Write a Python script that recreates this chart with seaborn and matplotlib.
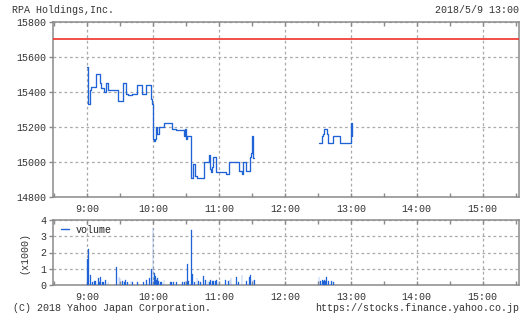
import numpy as np
import pandas as pd
import matplotlib
matplotlib.use("Agg")
import matplotlib.pyplot as plt
from matplotlib.lines import Line2D
import seaborn as sns

# ---------------- data ----------------
title_left = "RPA Holdings,Inc."
title_right = "2018/5/9 13:00"
footer_left = "(C) 2018 Yahoo Japan Corporation."
footer_right = "https://stocks.finance.yahoo.co.jp"

am_times = ["09:00", "09:01", "09:03", "09:04", "09:08", "09:12", "09:13", "09:15",
            "09:17", "09:19", "09:28", "09:33", "09:35", "09:37", "09:41", "09:45",
            "09:50", "09:54", "09:58", "09:59", "10:00", "10:01", "10:02", "10:03",
            "10:04", "10:05", "10:10", "10:17", "10:21", "10:28", "10:29", "10:30",
            "10:31", "10:35", "10:36", "10:38", "10:40", "10:46", "10:51", "10:52",
            "10:53", "10:54", "10:55", "10:57", "11:06", "11:09", "11:18", "11:21",
            "11:22", "11:25", "11:28", "11:29", "11:30", "11:31", "11:32"]
am_prices = [15540, 15330, 15410, 15430, 15500, 15450, 15420, 15400,
             15450, 15410, 15350, 15450, 15390, 15380, 15390, 15440,
             15390, 15440, 15360, 15330, 15130, 15120, 15130, 15200,
             15160, 15200, 15220, 15190, 15180, 15150, 15190, 15130,
             15150, 14910, 14990, 14920, 14910, 15000, 15040, 14960,
             14940, 14970, 15030, 14940, 14930, 15000, 14950, 14930,
             15000, 14950, 15030, 15050, 15150, 15020, 15020]

pm_times = ["12:31", "12:34", "12:35", "12:36", "12:38", "12:39", "12:44", "12:50",
            "13:00", "13:01"]
pm_prices = [15110, 15150, 15160, 15190, 15160, 15110, 15150, 15110, 15220, 15150]

ref_price = 15700

vol_times = ["09:00", "09:01", "09:03", "09:05", "09:07", "09:08", "09:10", "09:11",
             "09:12", "09:14", "09:15", "09:17", "09:19", "09:27", "09:29", "09:30",
             "09:32", "09:34", "09:35", "09:37", "09:40", "09:41", "09:46", "09:51",
             "09:54", "09:57", "09:59", "10:00", "10:01", "10:02", "10:03", "10:04",
             "10:05", "10:07", "10:08", "10:10", "10:16", "10:17", "10:19", "10:21",
             "10:27", "10:29", "10:30", "10:31", "10:32", "10:35", "10:36", "10:38",
             "10:40", "10:41", "10:43", "10:46", "10:48", "10:50", "10:51", "10:52",
             "10:54", "10:55", "10:57", "10:58", "11:00", "11:06", "11:09", "11:10",
             "11:11", "11:16", "11:18", "11:21", "11:25", "11:28", "11:29", "11:31",
             "11:32",
             "12:31", "12:32", "12:34", "12:35", "12:36", "12:37", "12:38", "12:40",
             "12:42", "12:44"]
vol_k = [1.61, 2.23, 0.64, 0.16, 0.23, 0.23, 0.43, 0.16,
         0.49, 0.16, 0.21, 0.33, 0.16, 1.11, 0.49, 0.43,
         0.23, 0.16, 0.33, 0.16, 0.23, 0.16, 0.16, 0.16,
         0.33, 0.43, 0.99, 3.53, 0.74, 0.54, 0.33, 0.43,
         0.23, 0.16, 0.16, 0.33, 0.16, 0.16, 0.16, 0.16,
         0.16, 0.16, 0.23, 1.32, 0.23, 3.36, 0.70, 0.16,
         0.43, 0.23, 0.16, 0.54, 0.33, 0.23, 0.16, 0.33,
         0.23, 0.23, 0.27, 0.33, 0.16, 0.33, 0.23, 0.33,
         0.43, 0.49, 0.16, 0.64, 0.23, 0.49, 0.64, 0.33,
         0.33,
         0.47, 0.23, 0.29, 0.23, 0.33, 0.23, 0.47, 0.23,
         0.27, 0.19]

hour_labels = ["9:00", "10:00", "11:00", "12:00", "13:00", "14:00", "15:00"]
price_ticks = [14800, 15000, 15200, 15400, 15600, 15800]
vol_ticks = [0, 1, 2, 3, 4]


def to_min(t):
    h, m = t.split(":")
    return (int(h) - 9) * 60 + int(m)


am = pd.DataFrame({"t": [to_min(t) for t in am_times], "price": am_prices})
pm = pd.DataFrame({"t": [to_min(t) for t in pm_times], "price": pm_prices})
vol = pd.DataFrame({"t": [to_min(t) for t in vol_times], "vol": vol_k})
hour_pos = [to_min(h if len(h) == 5 else "0" + h) for h in hour_labels]

# ---------------- style ----------------
sns.set_theme(style="white")
mono = ["Liberation Mono", "DejaVu Sans Mono"]
plt.rcParams["font.family"] = mono
plt.rcParams["font.size"] = 7.2
text_c = "#333333"
spine_c = "#8a8a8a"
grid_c = "#aaaaaa"
blue = "#1f63d6"
red = "#f0322a"

fig = plt.figure(figsize=(5.30, 3.22), dpi=100)
ax = fig.add_axes([53 / 530, 1 - 197 / 322, 466 / 530, 175 / 322])
axv = fig.add_axes([53 / 530, 1 - 285 / 322, 466 / 530, 65 / 322])

xlim = (-31, 393)

# price panel
ax.axhline(ref_price, color=red, lw=1.2, zorder=3)
for d in (am, pm):
    sns.lineplot(data=d, x="t", y="price", ax=ax, color=blue, lw=0.95,
                 drawstyle="steps-post", estimator=None, sort=False, zorder=4)
ax.set_xlim(*xlim)
ax.set_ylim(14800, 15800)
ax.set_yticks(price_ticks)
ax.set_xticks(hour_pos)
ax.set_xticklabels(hour_labels)
ax.set_xticks([p + 30 for p in [-60] + hour_pos], minor=True)

# volume panel
sns.barplot(data=vol, x="t", y="vol", ax=axv, native_scale=True, color=blue,
            width=0.8, edgecolor=blue, linewidth=0.2, saturation=1, zorder=4)
axv.set_xlim(*xlim)
axv.set_ylim(0, 4)
axv.set_yticks(vol_ticks)
axv.set_xticks(hour_pos)
axv.set_xticklabels(hour_labels)
axv.set_xticks([p + 30 for p in [-60] + hour_pos], minor=True)
axv.set_ylabel("(x1000)", color=text_c, fontsize=7.2, labelpad=8)
leg_handle = Line2D([0], [0], color=blue, lw=1.0)
axv.legend([leg_handle], ["volume"], loc="upper left", frameon=False,
           handlelength=0.8, handletextpad=0.6, borderaxespad=0.2,
           bbox_to_anchor=(0.005, 1.02), prop={"family": mono, "size": 7.2})

for a in (ax, axv):
    a.set_xlabel("")
    if a is ax:
        a.set_ylabel("")
    for s in a.spines.values():
        s.set_color(spine_c)
        s.set_linewidth(1.1)
    a.grid(True, which="major", color=grid_c, lw=0.9, ls=(0, (2.2, 2.2)))
    a.set_axisbelow(True)
    a.tick_params(axis="x", which="both", direction="in", top=True, bottom=True,
                  length=3, color=spine_c, width=1, labelcolor=text_c,
                  labelsize=7.2, pad=5)
    a.tick_params(axis="y", which="both", direction="out", left=True,
                  length=3, color=spine_c, width=1, labelcolor=text_c,
                  labelsize=7.2, pad=2)

fig.text(12 / 530, 1 - 10 / 322, title_left, ha="left", va="center",
         color=text_c, fontsize=7.2)
fig.text(519 / 530, 1 - 10 / 322, title_right, ha="right", va="center",
         color=text_c, fontsize=7.2)
fig.text(13 / 530, 1 - 308 / 322, footer_left, ha="left", va="center",
         color=text_c, fontsize=7.2)
fig.text(519 / 530, 1 - 308 / 322, footer_right, ha="right", va="center",
         color=text_c, fontsize=7.2)

fig.savefig("out.png", dpi=100, facecolor="white")
